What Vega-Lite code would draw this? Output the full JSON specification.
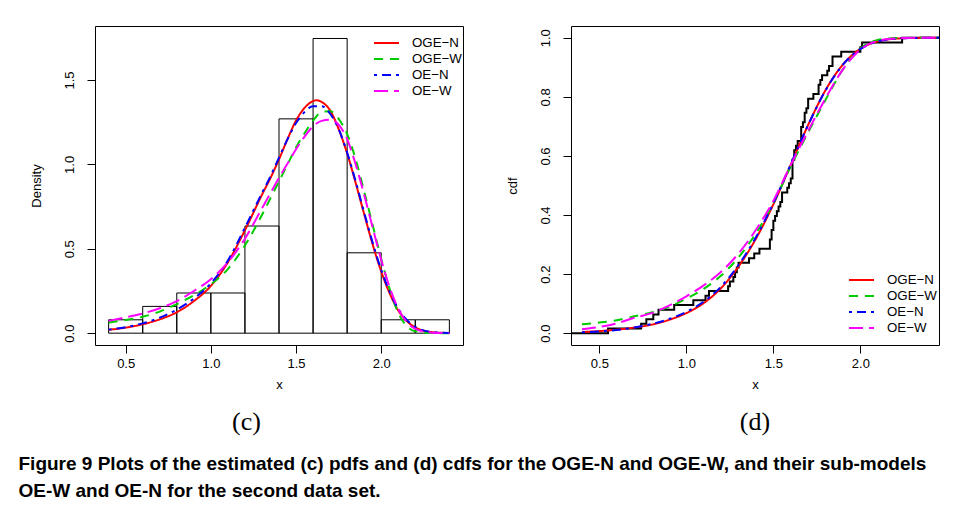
{
  "$schema": "https://vega.github.io/schema/vega-lite/v6.json",
  "padding": {"left": 18, "top": 25, "right": 0, "bottom": 0},
  "background": "white",
  "datasets": {
    "hist": [
      {"x0": 0.4, "x1": 0.6, "density": 0.0794},
      {"x0": 0.6, "x1": 0.8, "density": 0.1587},
      {"x0": 0.8, "x1": 1.0, "density": 0.2381},
      {"x0": 1.0, "x1": 1.2, "density": 0.2381},
      {"x0": 1.2, "x1": 1.4, "density": 0.6349},
      {"x0": 1.4, "x1": 1.6, "density": 1.2698},
      {"x0": 1.6, "x1": 1.8, "density": 1.7460},
      {"x0": 1.8, "x1": 2.0, "density": 0.4762},
      {"x0": 2.0, "x1": 2.2, "density": 0.0794},
      {"x0": 2.2, "x1": 2.4, "density": 0.0794}
    ],
    "pdf": [
      {"model": "OGE−N", "x": 0.4, "d": 0.020}, {"model": "OGE−N", "x": 0.5, "d": 0.033}, {"model": "OGE−N", "x": 0.6, "d": 0.053}, {"model": "OGE−N", "x": 0.7, "d": 0.082}, {"model": "OGE−N", "x": 0.8, "d": 0.124}, {"model": "OGE−N", "x": 0.9, "d": 0.19}, {"model": "OGE−N", "x": 1.0, "d": 0.28}, {"model": "OGE−N", "x": 1.1, "d": 0.42}, {"model": "OGE−N", "x": 1.2, "d": 0.61}, {"model": "OGE−N", "x": 1.3, "d": 0.82}, {"model": "OGE−N", "x": 1.35, "d": 0.92}, {"model": "OGE−N", "x": 1.4, "d": 1.03}, {"model": "OGE−N", "x": 1.45, "d": 1.15}, {"model": "OGE−N", "x": 1.5, "d": 1.26}, {"model": "OGE−N", "x": 1.55, "d": 1.335}, {"model": "OGE−N", "x": 1.6, "d": 1.375}, {"model": "OGE−N", "x": 1.62, "d": 1.38}, {"model": "OGE−N", "x": 1.65, "d": 1.37}, {"model": "OGE−N", "x": 1.7, "d": 1.32}, {"model": "OGE−N", "x": 1.75, "d": 1.21}, {"model": "OGE−N", "x": 1.8, "d": 1.065}, {"model": "OGE−N", "x": 1.85, "d": 0.89}, {"model": "OGE−N", "x": 1.9, "d": 0.705}, {"model": "OGE−N", "x": 1.95, "d": 0.525}, {"model": "OGE−N", "x": 2.0, "d": 0.365}, {"model": "OGE−N", "x": 2.05, "d": 0.235}, {"model": "OGE−N", "x": 2.1, "d": 0.135}, {"model": "OGE−N", "x": 2.15, "d": 0.072}, {"model": "OGE−N", "x": 2.2, "d": 0.034}, {"model": "OGE−N", "x": 2.3, "d": 0.006}, {"model": "OGE−N", "x": 2.4, "d": 0.001},
      {"model": "OGE−W", "x": 0.4, "d": 0.063}, {"model": "OGE−W", "x": 0.5, "d": 0.078}, {"model": "OGE−W", "x": 0.6, "d": 0.097}, {"model": "OGE−W", "x": 0.7, "d": 0.128}, {"model": "OGE−W", "x": 0.8, "d": 0.172}, {"model": "OGE−W", "x": 0.9, "d": 0.225}, {"model": "OGE−W", "x": 1.0, "d": 0.29}, {"model": "OGE−W", "x": 1.1, "d": 0.38}, {"model": "OGE−W", "x": 1.2, "d": 0.52}, {"model": "OGE−W", "x": 1.3, "d": 0.70}, {"model": "OGE−W", "x": 1.35, "d": 0.80}, {"model": "OGE−W", "x": 1.4, "d": 0.90}, {"model": "OGE−W", "x": 1.45, "d": 1.00}, {"model": "OGE−W", "x": 1.5, "d": 1.10}, {"model": "OGE−W", "x": 1.55, "d": 1.185}, {"model": "OGE−W", "x": 1.6, "d": 1.26}, {"model": "OGE−W", "x": 1.65, "d": 1.31}, {"model": "OGE−W", "x": 1.7, "d": 1.315}, {"model": "OGE−W", "x": 1.75, "d": 1.27}, {"model": "OGE−W", "x": 1.8, "d": 1.18}, {"model": "OGE−W", "x": 1.85, "d": 1.03}, {"model": "OGE−W", "x": 1.9, "d": 0.84}, {"model": "OGE−W", "x": 1.95, "d": 0.64}, {"model": "OGE−W", "x": 2.0, "d": 0.44}, {"model": "OGE−W", "x": 2.05, "d": 0.26}, {"model": "OGE−W", "x": 2.1, "d": 0.12}, {"model": "OGE−W", "x": 2.15, "d": 0.042}, {"model": "OGE−W", "x": 2.2, "d": 0.011}, {"model": "OGE−W", "x": 2.3, "d": 0.0005}, {"model": "OGE−W", "x": 2.4, "d": 0.0},
      {"model": "OE−N", "x": 0.4, "d": 0.021}, {"model": "OE−N", "x": 0.5, "d": 0.036}, {"model": "OE−N", "x": 0.6, "d": 0.058}, {"model": "OE−N", "x": 0.7, "d": 0.092}, {"model": "OE−N", "x": 0.8, "d": 0.14}, {"model": "OE−N", "x": 0.9, "d": 0.205}, {"model": "OE−N", "x": 1.0, "d": 0.295}, {"model": "OE−N", "x": 1.1, "d": 0.43}, {"model": "OE−N", "x": 1.2, "d": 0.625}, {"model": "OE−N", "x": 1.3, "d": 0.83}, {"model": "OE−N", "x": 1.35, "d": 0.93}, {"model": "OE−N", "x": 1.4, "d": 1.04}, {"model": "OE−N", "x": 1.45, "d": 1.15}, {"model": "OE−N", "x": 1.5, "d": 1.245}, {"model": "OE−N", "x": 1.55, "d": 1.31}, {"model": "OE−N", "x": 1.6, "d": 1.345}, {"model": "OE−N", "x": 1.65, "d": 1.345}, {"model": "OE−N", "x": 1.7, "d": 1.30}, {"model": "OE−N", "x": 1.75, "d": 1.21}, {"model": "OE−N", "x": 1.8, "d": 1.07}, {"model": "OE−N", "x": 1.85, "d": 0.90}, {"model": "OE−N", "x": 1.9, "d": 0.715}, {"model": "OE−N", "x": 1.95, "d": 0.535}, {"model": "OE−N", "x": 2.0, "d": 0.375}, {"model": "OE−N", "x": 2.05, "d": 0.245}, {"model": "OE−N", "x": 2.1, "d": 0.145}, {"model": "OE−N", "x": 2.15, "d": 0.078}, {"model": "OE−N", "x": 2.2, "d": 0.037}, {"model": "OE−N", "x": 2.3, "d": 0.007}, {"model": "OE−N", "x": 2.4, "d": 0.001},
      {"model": "OE−W", "x": 0.4, "d": 0.073}, {"model": "OE−W", "x": 0.5, "d": 0.094}, {"model": "OE−W", "x": 0.6, "d": 0.117}, {"model": "OE−W", "x": 0.7, "d": 0.148}, {"model": "OE−W", "x": 0.8, "d": 0.19}, {"model": "OE−W", "x": 0.9, "d": 0.25}, {"model": "OE−W", "x": 1.0, "d": 0.32}, {"model": "OE−W", "x": 1.1, "d": 0.42}, {"model": "OE−W", "x": 1.2, "d": 0.56}, {"model": "OE−W", "x": 1.3, "d": 0.74}, {"model": "OE−W", "x": 1.35, "d": 0.83}, {"model": "OE−W", "x": 1.4, "d": 0.92}, {"model": "OE−W", "x": 1.45, "d": 1.005}, {"model": "OE−W", "x": 1.5, "d": 1.09}, {"model": "OE−W", "x": 1.55, "d": 1.165}, {"model": "OE−W", "x": 1.6, "d": 1.225}, {"model": "OE−W", "x": 1.65, "d": 1.258}, {"model": "OE−W", "x": 1.7, "d": 1.265}, {"model": "OE−W", "x": 1.75, "d": 1.235}, {"model": "OE−W", "x": 1.8, "d": 1.15}, {"model": "OE−W", "x": 1.85, "d": 1.00}, {"model": "OE−W", "x": 1.9, "d": 0.82}, {"model": "OE−W", "x": 1.95, "d": 0.625}, {"model": "OE−W", "x": 2.0, "d": 0.435}, {"model": "OE−W", "x": 2.05, "d": 0.27}, {"model": "OE−W", "x": 2.1, "d": 0.145}, {"model": "OE−W", "x": 2.15, "d": 0.066}, {"model": "OE−W", "x": 2.2, "d": 0.026}, {"model": "OE−W", "x": 2.3, "d": 0.003}, {"model": "OE−W", "x": 2.4, "d": 0.0}
    ],
    "cdf": [
      {"model": "OGE−N", "x": 0.4, "F": 0.004}, {"model": "OGE−N", "x": 0.5, "F": 0.007}, {"model": "OGE−N", "x": 0.6, "F": 0.012}, {"model": "OGE−N", "x": 0.7, "F": 0.019}, {"model": "OGE−N", "x": 0.8, "F": 0.029}, {"model": "OGE−N", "x": 0.9, "F": 0.045}, {"model": "OGE−N", "x": 1.0, "F": 0.068}, {"model": "OGE−N", "x": 1.1, "F": 0.102}, {"model": "OGE−N", "x": 1.2, "F": 0.153}, {"model": "OGE−N", "x": 1.3, "F": 0.226}, {"model": "OGE−N", "x": 1.4, "F": 0.32}, {"model": "OGE−N", "x": 1.5, "F": 0.436}, {"model": "OGE−N", "x": 1.6, "F": 0.57}, {"model": "OGE−N", "x": 1.7, "F": 0.705}, {"model": "OGE−N", "x": 1.8, "F": 0.823}, {"model": "OGE−N", "x": 1.9, "F": 0.91}, {"model": "OGE−N", "x": 2.0, "F": 0.963}, {"model": "OGE−N", "x": 2.1, "F": 0.988}, {"model": "OGE−N", "x": 2.2, "F": 0.997}, {"model": "OGE−N", "x": 2.3, "F": 0.9995}, {"model": "OGE−N", "x": 2.4, "F": 1.0}, {"model": "OGE−N", "x": 2.46, "F": 1.0},
      {"model": "OGE−W", "x": 0.4, "F": 0.03}, {"model": "OGE−W", "x": 0.5, "F": 0.036}, {"model": "OGE−W", "x": 0.6, "F": 0.044}, {"model": "OGE−W", "x": 0.7, "F": 0.057}, {"model": "OGE−W", "x": 0.8, "F": 0.07}, {"model": "OGE−W", "x": 0.9, "F": 0.089}, {"model": "OGE−W", "x": 1.0, "F": 0.117}, {"model": "OGE−W", "x": 1.1, "F": 0.15}, {"model": "OGE−W", "x": 1.2, "F": 0.195}, {"model": "OGE−W", "x": 1.3, "F": 0.257}, {"model": "OGE−W", "x": 1.4, "F": 0.338}, {"model": "OGE−W", "x": 1.5, "F": 0.44}, {"model": "OGE−W", "x": 1.6, "F": 0.565}, {"model": "OGE−W", "x": 1.7, "F": 0.68}, {"model": "OGE−W", "x": 1.8, "F": 0.79}, {"model": "OGE−W", "x": 1.9, "F": 0.893}, {"model": "OGE−W", "x": 2.0, "F": 0.963}, {"model": "OGE−W", "x": 2.1, "F": 0.993}, {"model": "OGE−W", "x": 2.2, "F": 0.999}, {"model": "OGE−W", "x": 2.3, "F": 1.0}, {"model": "OGE−W", "x": 2.4, "F": 1.0}, {"model": "OGE−W", "x": 2.46, "F": 1.0},
      {"model": "OE−N", "x": 0.4, "F": 0.003}, {"model": "OE−N", "x": 0.5, "F": 0.006}, {"model": "OE−N", "x": 0.6, "F": 0.011}, {"model": "OE−N", "x": 0.7, "F": 0.019}, {"model": "OE−N", "x": 0.8, "F": 0.031}, {"model": "OE−N", "x": 0.9, "F": 0.048}, {"model": "OE−N", "x": 1.0, "F": 0.072}, {"model": "OE−N", "x": 1.1, "F": 0.107}, {"model": "OE−N", "x": 1.2, "F": 0.158}, {"model": "OE−N", "x": 1.3, "F": 0.231}, {"model": "OE−N", "x": 1.4, "F": 0.325}, {"model": "OE−N", "x": 1.5, "F": 0.44}, {"model": "OE−N", "x": 1.6, "F": 0.572}, {"model": "OE−N", "x": 1.7, "F": 0.705}, {"model": "OE−N", "x": 1.8, "F": 0.822}, {"model": "OE−N", "x": 1.9, "F": 0.909}, {"model": "OE−N", "x": 2.0, "F": 0.962}, {"model": "OE−N", "x": 2.1, "F": 0.988}, {"model": "OE−N", "x": 2.2, "F": 0.997}, {"model": "OE−N", "x": 2.3, "F": 0.9995}, {"model": "OE−N", "x": 2.4, "F": 1.0}, {"model": "OE−N", "x": 2.46, "F": 1.0},
      {"model": "OE−W", "x": 0.4, "F": 0.013}, {"model": "OE−W", "x": 0.5, "F": 0.021}, {"model": "OE−W", "x": 0.6, "F": 0.033}, {"model": "OE−W", "x": 0.7, "F": 0.052}, {"model": "OE−W", "x": 0.8, "F": 0.068}, {"model": "OE−W", "x": 0.9, "F": 0.093}, {"model": "OE−W", "x": 1.0, "F": 0.125}, {"model": "OE−W", "x": 1.1, "F": 0.162}, {"model": "OE−W", "x": 1.2, "F": 0.208}, {"model": "OE−W", "x": 1.3, "F": 0.27}, {"model": "OE−W", "x": 1.4, "F": 0.35}, {"model": "OE−W", "x": 1.5, "F": 0.448}, {"model": "OE−W", "x": 1.6, "F": 0.57}, {"model": "OE−W", "x": 1.7, "F": 0.685}, {"model": "OE−W", "x": 1.8, "F": 0.795}, {"model": "OE−W", "x": 1.9, "F": 0.893}, {"model": "OE−W", "x": 2.0, "F": 0.96}, {"model": "OE−W", "x": 2.1, "F": 0.99}, {"model": "OE−W", "x": 2.2, "F": 0.998}, {"model": "OE−W", "x": 2.3, "F": 1.0}, {"model": "OE−W", "x": 2.4, "F": 1.0}, {"model": "OE−W", "x": 2.46, "F": 1.0}
    ],
    "ecdf": [
      {"x": 0.3, "F": 0}, {"x": 0.55, "F": 0.0159}, {"x": 0.74, "F": 0.0317}, {"x": 0.77, "F": 0.0476}, {"x": 0.81, "F": 0.0635}, {"x": 0.84, "F": 0.0794}, {"x": 0.93, "F": 0.0952}, {"x": 1.04, "F": 0.1111}, {"x": 1.11, "F": 0.1270}, {"x": 1.13, "F": 0.1429}, {"x": 1.24, "F": 0.1587}, {"x": 1.25, "F": 0.1746}, {"x": 1.27, "F": 0.1905}, {"x": 1.28, "F": 0.2063}, {"x": 1.29, "F": 0.2222}, {"x": 1.30, "F": 0.2381}, {"x": 1.36, "F": 0.2540}, {"x": 1.39, "F": 0.2698}, {"x": 1.42, "F": 0.2857}, {"x": 1.48, "F": 0.3175}, {"x": 1.49, "F": 0.3492}, {"x": 1.50, "F": 0.3810}, {"x": 1.51, "F": 0.3968}, {"x": 1.52, "F": 0.4127}, {"x": 1.53, "F": 0.4286}, {"x": 1.54, "F": 0.4444}, {"x": 1.55, "F": 0.4762}, {"x": 1.58, "F": 0.4921}, {"x": 1.59, "F": 0.5079}, {"x": 1.60, "F": 0.5238}, {"x": 1.61, "F": 0.5873}, {"x": 1.62, "F": 0.6190}, {"x": 1.63, "F": 0.6349}, {"x": 1.64, "F": 0.6508}, {"x": 1.66, "F": 0.6984}, {"x": 1.67, "F": 0.7143}, {"x": 1.68, "F": 0.7460}, {"x": 1.69, "F": 0.7619}, {"x": 1.70, "F": 0.7937}, {"x": 1.73, "F": 0.8095}, {"x": 1.76, "F": 0.8413}, {"x": 1.77, "F": 0.8571}, {"x": 1.78, "F": 0.8730}, {"x": 1.81, "F": 0.8889}, {"x": 1.82, "F": 0.9048}, {"x": 1.84, "F": 0.9365}, {"x": 1.89, "F": 0.9524}, {"x": 2.00, "F": 0.9683}, {"x": 2.01, "F": 0.9841}, {"x": 2.24, "F": 1.0}, {"x": 2.5, "F": 1.0}
    ]
  },
  "spacing": 41,
  "hconcat": [
    {
      "width": 368,
      "height": 319,
      "title": {"text": "(c)", "orient": "bottom", "frame": "bounds", "font": "Liberation Serif", "fontSize": 26, "fontWeight": "normal", "offset": 18, "color": "black"},
      "layer": [
        {
          "data": {"name": "hist"},
          "mark": {"type": "rect", "filled": false, "color": "black", "strokeWidth": 1},
          "encoding": {
            "x": {"field": "x0", "type": "quantitative", "scale": {"domain": [0.32, 2.48], "nice": false, "zero": false}, "axis": {"values": [0.5, 1, 1.5, 2], "format": ".1f", "title": "x"}},
            "x2": {"field": "x1"},
            "y": {"field": "density", "type": "quantitative", "scale": {"domain": [-0.07, 1.82], "nice": false, "zero": false}, "axis": {"values": [0, 0.5, 1, 1.5], "format": ".1f", "title": "Density"}},
            "y2": {"datum": 0}
          }
        },
        {
          "data": {"name": "pdf"},
          "mark": {"type": "line", "interpolate": "monotone", "strokeWidth": 2, "clip": true},
          "encoding": {
            "x": {"field": "x", "type": "quantitative"},
            "y": {"field": "d", "type": "quantitative"},
            "color": {"field": "model", "type": "nominal", "scale": {"domain": ["OGE−N", "OGE−W", "OE−N", "OE−W"], "range": ["#ff0000", "#00cd00", "#0000ff", "#ff00ff"]}, "legend": {"orient": "none", "legendX": 278, "legendY": 9}},
            "strokeDash": {"field": "model", "type": "nominal", "scale": {"domain": ["OGE−N", "OGE−W", "OE−N", "OE−W"], "range": [[1, 0], [9, 7], [3, 5, 9, 5], [14, 6]]}, "legend": {"orient": "none", "legendX": 278, "legendY": 9}}
          }
        }
      ]
    },
    {
      "width": 368,
      "height": 319,
      "title": {"text": "(d)", "orient": "bottom", "frame": "group", "font": "Liberation Serif", "fontSize": 26, "fontWeight": "normal", "offset": 18, "color": "black"},
      "layer": [
        {
          "data": {"name": "ecdf"},
          "mark": {"type": "line", "interpolate": "step-after", "color": "black", "strokeWidth": 2, "clip": true},
          "encoding": {
            "x": {"field": "x", "type": "quantitative", "scale": {"domain": [0.337, 2.452], "nice": false, "zero": false}, "axis": {"values": [0.5, 1, 1.5, 2], "format": ".1f", "title": "x"}},
            "y": {"field": "F", "type": "quantitative", "scale": {"domain": [-0.04, 1.04], "nice": false, "zero": false}, "axis": {"values": [0, 0.2, 0.4, 0.6, 0.8, 1], "format": ".1f", "title": "cdf"}}
          }
        },
        {
          "data": {"name": "cdf"},
          "mark": {"type": "line", "interpolate": "monotone", "strokeWidth": 2, "clip": true},
          "encoding": {
            "x": {"field": "x", "type": "quantitative"},
            "y": {"field": "F", "type": "quantitative"},
            "color": {"field": "model", "type": "nominal", "scale": {"domain": ["OGE−N", "OGE−W", "OE−N", "OE−W"], "range": ["#ff0000", "#00cd00", "#0000ff", "#ff00ff"]}, "legend": {"orient": "none", "legendX": 277, "legendY": 246}},
            "strokeDash": {"field": "model", "type": "nominal", "scale": {"domain": ["OGE−N", "OGE−W", "OE−N", "OE−W"], "range": [[1, 0], [9, 7], [3, 5, 9, 5], [14, 6]]}, "legend": {"orient": "none", "legendX": 277, "legendY": 246}}
          }
        }
      ],
      "resolve": {"scale": {"color": "independent", "strokeDash": "independent"}}
    }
  ],
  "resolve": {"scale": {"color": "independent", "strokeDash": "independent"}, "legend": {"color": "independent", "strokeDash": "independent"}},
  "title": {
    "text": ["Figure 9 Plots of the estimated (c) pdfs and (d) cdfs for the OGE-N and OGE-W, and their sub-models", "OE-W and OE-N for the second data set."],
    "orient": "bottom",
    "anchor": "start",
    "frame": "bounds",
    "font": "Liberation Sans",
    "fontSize": 19,
    "fontWeight": "bold",
    "lineHeight": 27,
    "color": "black",
    "offset": 19,
    "dx": -11
  },
  "config": {
    "view": {"stroke": "black", "strokeWidth": 1},
    "font": "Liberation Sans",
    "axis": {
      "grid": false,
      "domain": false,
      "ticks": true,
      "tickColor": "black",
      "tickSize": 8,
      "tickWidth": 1,
      "labelFont": "Liberation Sans",
      "labelFontSize": 13,
      "labelColor": "black",
      "titleFont": "Liberation Sans",
      "titleFontSize": 13,
      "titleFontWeight": "normal",
      "titleColor": "black"
    },
    "axisX": {"labelPadding": 4, "titlePadding": 8},
    "axisY": {"labelAngle": -90, "labelAlign": "center", "labelBaseline": "bottom", "labelPadding": 11, "titlePadding": 20},
    "legend": {
      "title": null,
      "labelFont": "Liberation Sans",
      "labelFontSize": 13.3,
      "labelColor": "black",
      "symbolType": "stroke",
      "symbolSize": 625,
      "symbolStrokeWidth": 2,
      "clipHeight": 16,
      "rowPadding": 0,
      "labelOffset": 12,
      "padding": 0
    }
  }
}
